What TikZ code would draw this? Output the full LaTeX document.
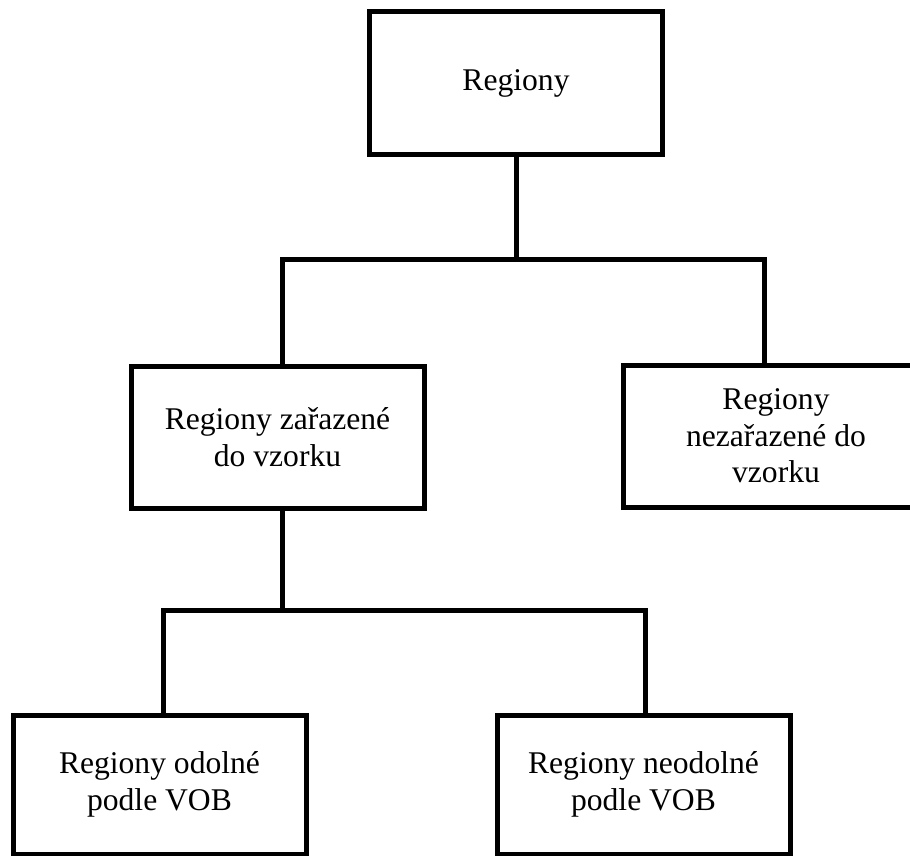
\documentclass[tikz,border=0pt]{standalone}
\usepackage{fontspec}
\setmainfont{Liberation Serif}
\begin{document}
\begin{tikzpicture}[x = 0.75pt, y = -0.75pt,
  box/.style = {draw, line width = 3.75pt, inner sep = 0pt, align = center,
    minimum width = 219.75pt, minimum height = 106.5pt,
    font = \fontsize{23.7pt}{27.3pt}\selectfont},
  link/.style = {line width = 3.75pt}]
\useasboundingbox (0,0) rectangle (910,856);
\clip (0,0) rectangle (910,856);
% boxes
\node[box] (reg) at (516,83) {Regiony};
\node[box] (zar) at (277.5,437) {Regiony zařazené\\do vzorku};
\node[box, minimum width = 229.5pt] (nezar) at (776,436) {Regiony\\nezařazené do\\vzorku};
\node[box, minimum height = 104.25pt] (odol) at (159.5,784.5) {Regiony odolné\\podle VOB};
\node[box, minimum height = 104.25pt] (neodol) at (643.5,784.5) {Regiony neodolné\\podle VOB};
% junctions
\coordinate (j1l) at (282.5,259);
\coordinate (j1r) at (764,259);
\coordinate (j2l) at (163.5,610);
\coordinate (j2r) at (645,610);
% connectors
\draw[link] (reg.south) -- (reg.south |- j1l);
\draw[link] (j1l |- zar.north) -- (j1l) -- (j1r) -- (j1r |- nezar.north);
\draw[link] (zar.south -| j1l) -- (j1l |- j2l);
\draw[link] (j2l |- odol.north) -- (j2l) -- (j2r) -- (j2r |- neodol.north);
\end{tikzpicture}
\end{document}
